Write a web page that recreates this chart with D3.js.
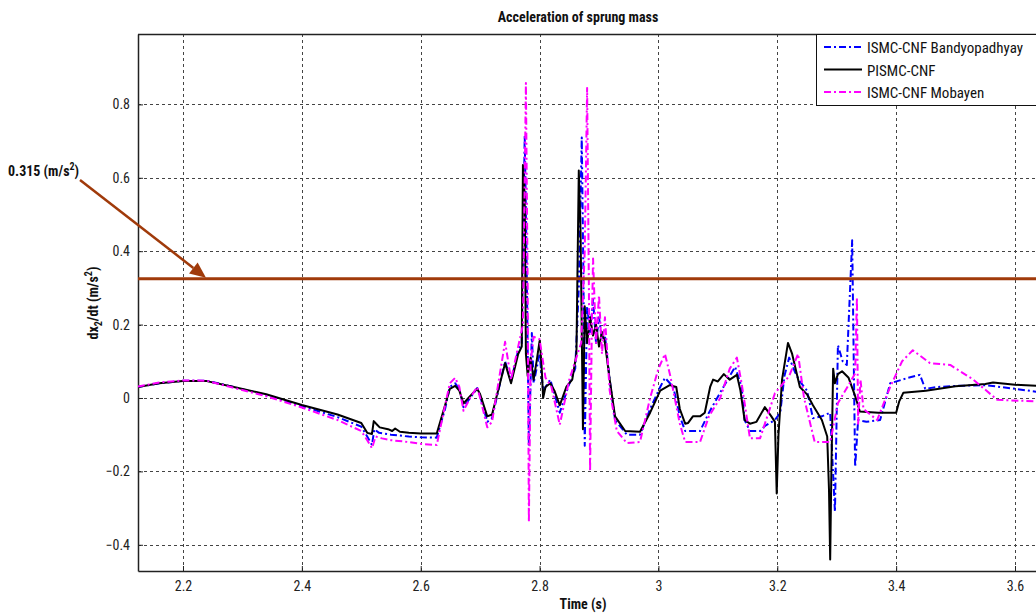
<!DOCTYPE html>
<html><head><meta charset="utf-8">
<script src="https://cdn.jsdelivr.net/npm/d3@7"></script>
<style>
body{margin:0;background:#fff;}
svg{display:block;}
text{font-family:"Liberation Sans Narrow","Arial Narrow","Roboto Condensed","Liberation Sans",sans-serif;}
</style></head>
<body>
<svg id="c" width="1036" height="613"></svg>
<script>
// ---- data ----
const seriesNames = ["ISMC-CNF Bandyopadhyay", "PISMC-CNF", "ISMC-CNF Mobayen"];
const xTicks = [2.2, 2.4, 2.6, 2.8, 3.0, 3.2, 3.4, 3.6];
const yTicks = [-0.4, -0.2, 0, 0.2, 0.4, 0.6, 0.8];
const thresholdValue = 0.325;
const thresholdLabel = "0.315";

const blueT = [2.124,2.16,2.20,2.24,2.28,2.34,2.40,2.46,2.50,2.510,2.518,2.522,2.53,2.55,2.58,2.60,2.627,2.641,2.649,2.658,2.665,2.672,2.683,2.695,2.70,2.712,2.72,2.742,2.752,2.764,2.770,2.775,2.778,2.782,2.785,2.787,2.79,2.80,2.806,2.818,2.834,2.848,2.86,2.866,2.871,2.874,2.876,2.880,2.885,2.89,2.895,2.90,2.905,2.91,2.918,2.927,2.947,2.969,2.986,3.003,3.011,3.025,3.036,3.045,3.07,3.085,3.104,3.12,3.129,3.14,3.145,3.154,3.171,3.18,3.196,3.205,3.212,3.220,3.23,3.238,3.25,3.26,3.275,3.289,3.297,3.302,3.31,3.317,3.326,3.331,3.336,3.35,3.373,3.39,3.42,3.44,3.449,3.47,3.50,3.55,3.60,3.65];
const blueY = [0.030,0.040,0.047,0.047,0.032,0.008,-0.022,-0.052,-0.078,-0.105,-0.128,-0.085,-0.095,-0.100,-0.105,-0.107,-0.108,-0.030,0.030,0.040,0.025,-0.025,0.000,0.027,0.005,-0.065,-0.055,0.100,0.045,0.130,0.150,0.717,0.400,-0.130,0.050,0.177,0.040,0.120,0.020,0.050,-0.040,0.030,0.080,0.300,0.710,0.300,-0.130,0.250,0.180,0.270,0.150,0.220,0.160,0.170,0.050,-0.060,-0.100,-0.100,-0.030,0.030,0.055,0.030,-0.050,-0.090,-0.090,-0.040,0.015,0.060,0.085,0.030,-0.060,-0.090,-0.090,-0.075,-0.060,-0.040,0.060,0.110,0.070,0.045,0.020,-0.055,-0.050,-0.040,-0.310,0.144,0.100,0.090,0.430,-0.188,-0.060,-0.065,-0.060,0.040,0.055,0.063,0.025,0.030,0.033,0.035,0.025,0.014];

const blackT = [2.124,2.16,2.20,2.24,2.28,2.34,2.40,2.46,2.50,2.510,2.518,2.521,2.525,2.531,2.545,2.552,2.557,2.565,2.58,2.60,2.627,2.641,2.649,2.658,2.665,2.672,2.683,2.695,2.70,2.712,2.72,2.742,2.752,2.764,2.770,2.772,2.775,2.777,2.780,2.785,2.790,2.795,2.80,2.803,2.806,2.81,2.818,2.825,2.834,2.845,2.855,2.862,2.866,2.869,2.873,2.876,2.880,2.885,2.89,2.895,2.90,2.905,2.91,2.918,2.927,2.944,2.969,2.986,3.003,3.019,3.03,3.036,3.045,3.05,3.058,3.07,3.078,3.087,3.092,3.10,3.11,3.12,3.132,3.138,3.145,3.154,3.165,3.179,3.19,3.196,3.199,3.202,3.208,3.218,3.225,3.238,3.25,3.26,3.275,3.284,3.287,3.289,3.291,3.294,3.297,3.302,3.309,3.32,3.33,3.339,3.37,3.40,3.405,3.412,3.45,3.50,3.55,3.563,3.60,3.65];
const blackY = [0.030,0.040,0.046,0.046,0.032,0.010,-0.019,-0.045,-0.068,-0.095,-0.098,-0.063,-0.070,-0.080,-0.085,-0.090,-0.083,-0.092,-0.095,-0.097,-0.097,-0.020,0.025,0.033,0.020,-0.015,0.005,0.025,0.010,-0.050,-0.045,0.095,0.040,0.120,0.140,0.635,0.550,0.120,0.060,0.110,0.050,0.100,0.155,0.100,0.000,0.030,0.040,0.020,-0.020,0.030,0.050,0.120,0.620,0.450,-0.085,0.250,0.150,0.220,0.170,0.200,0.140,0.180,0.150,0.050,-0.050,-0.090,-0.092,-0.040,0.020,0.035,0.030,-0.030,-0.070,-0.068,-0.050,-0.050,-0.040,0.030,0.050,0.045,0.065,0.050,0.063,0.020,-0.060,-0.070,-0.065,-0.025,-0.050,-0.065,-0.260,-0.100,0.050,0.150,0.120,0.030,0.010,-0.020,-0.060,-0.105,-0.250,-0.440,-0.200,0.080,0.040,0.065,0.073,0.055,0.010,-0.037,-0.040,-0.040,-0.010,0.014,0.020,0.032,0.038,0.042,0.036,0.032];

const magT = [2.124,2.16,2.20,2.24,2.28,2.34,2.40,2.46,2.50,2.510,2.518,2.524,2.535,2.55,2.58,2.60,2.627,2.641,2.649,2.658,2.665,2.672,2.683,2.695,2.70,2.712,2.72,2.742,2.752,2.764,2.772,2.777,2.780,2.782,2.785,2.79,2.80,2.81,2.82,2.834,2.85,2.87,2.876,2.880,2.883,2.885,2.888,2.89,2.895,2.90,2.905,2.91,2.918,2.93,2.947,2.969,2.986,3.0,3.011,3.02,3.036,3.045,3.07,3.085,3.104,3.12,3.132,3.14,3.154,3.171,3.196,3.205,3.22,3.235,3.245,3.263,3.289,3.302,3.318,3.331,3.334,3.336,3.34,3.345,3.368,3.39,3.41,3.428,3.457,3.491,3.53,3.570,3.65];
const magY = [0.031,0.042,0.048,0.047,0.030,0.005,-0.026,-0.060,-0.090,-0.115,-0.137,-0.105,-0.110,-0.115,-0.120,-0.125,-0.128,-0.020,0.040,0.055,0.030,-0.035,0.000,0.030,0.000,-0.080,-0.065,0.153,0.050,0.140,0.200,0.858,0.300,-0.338,0.100,0.167,0.160,0.055,0.030,-0.073,0.050,0.150,0.400,0.845,0.300,-0.200,0.200,0.380,0.150,0.280,0.120,0.220,0.020,-0.090,-0.123,-0.120,0.000,0.080,0.120,0.060,-0.070,-0.120,-0.120,-0.050,0.000,0.080,0.110,0.040,-0.110,-0.110,0.013,0.030,0.060,0.120,0.000,-0.120,-0.120,-0.014,0.030,0.067,0.275,-0.070,0.050,-0.030,-0.060,0.030,0.100,0.130,0.095,0.090,0.050,-0.005,-0.010];

const seriesT = [blueT, blackT, magT];
const seriesY = [blueY, blackY, magY];
const seriesColor = ["#0000ff", "#000000", "#ff00ff"];
const seriesDash = ["7,3,2,3", null, "7,3,2,3"];

// ---- layout ----
const svg = d3.select("#c");
const L = 138, T = 34, B = 571;
const pxPerUnitX = 594.3;
const xMin = 2.1243, xMax = 3.65;
const x = d3.scaleLinear().domain([xMin, xMax]).range([L, L + pxPerUnitX * (xMax - xMin)]);
const y = d3.scaleLinear().domain([-0.4714, 0.9918]).range([B, T]);
const R = x.range()[1];

svg.append("defs").append("clipPath").attr("id","clip")
  .append("rect").attr("x",L).attr("y",T).attr("width",R-L).attr("height",B-T);

// grid
const grid = svg.append("g").attr("stroke","#444").attr("stroke-width",1).attr("stroke-dasharray","3,3");
xTicks.forEach(v=>grid.append("line").attr("x1",Math.round(x(v))+0.5).attr("x2",Math.round(x(v))+0.5).attr("y1",T).attr("y2",B));
yTicks.forEach(v=>grid.append("line").attr("y1",Math.round(y(v))+0.5).attr("y2",Math.round(y(v))+0.5).attr("x1",L).attr("x2",R));

// axes
const xAxis = d3.axisBottom(x).tickValues(xTicks).tickSizeInner(-5).tickSizeOuter(0).tickPadding(10)
  .tickFormat(d=>d3.format("~g")(d));
const gx = svg.append("g").attr("transform",`translate(0,${B})`).call(xAxis);
const yAxis = d3.axisLeft(y).tickValues(yTicks).tickSizeInner(-5).tickSizeOuter(0).tickPadding(8)
  .tickFormat(d=>d3.format("~g")(d));
const gy = svg.append("g").attr("transform",`translate(${L},0)`).call(yAxis);
[gx,gy].forEach(g=>{
  g.selectAll("path.domain").attr("stroke","#222").attr("stroke-width",1.5);
  g.selectAll(".tick line").attr("stroke","#222");
  g.selectAll(".tick text").attr("font-size",14).attr("fill","#222")
    .attr("font-family",'"Liberation Sans Narrow","Arial Narrow",sans-serif');
});
svg.append("line").attr("x1",L).attr("x2",R).attr("y1",T+0.5).attr("y2",T+0.5).attr("stroke","#222").attr("stroke-width",1.5);

// series
const plot = svg.append("g").attr("clip-path","url(#clip)");
const line = d3.line().x(d=>x(d[0])).y(d=>y(d[1]));
seriesT.forEach((ts,i)=>{
  const pts = ts.map((t,j)=>[t, seriesY[i][j]]);
  const p = plot.append("path").datum(pts).attr("d",line)
    .attr("fill","none").attr("stroke",seriesColor[i]).attr("stroke-width",2)
    .attr("stroke-linejoin","round");
  if (seriesDash[i]) p.attr("stroke-dasharray",seriesDash[i]);
});

// threshold line
const brown = "#a03a0a";
plot.append("line").attr("x1",L).attr("x2",R).attr("y1",y(thresholdValue)).attr("y2",y(thresholdValue))
  .attr("stroke",brown).attr("stroke-width",3);

// annotation arrow
const ax0 = 80, ay0 = 180, ax1 = 206, ay1 = y(thresholdValue) - 1;
const ang = Math.atan2(ay1-ay0, ax1-ax0);
const hl = 16, hw = 7;
const bx = ax1 - hl*Math.cos(ang), by = ay1 - hl*Math.sin(ang);
svg.append("line").attr("x1",ax0).attr("y1",ay0).attr("x2",bx).attr("y2",by)
  .attr("stroke",brown).attr("stroke-width",2.5);
svg.append("path").attr("fill",brown)
  .attr("d",`M${ax1},${ay1}L${bx - hw*Math.sin(ang)},${by + hw*Math.cos(ang)}L${bx + hw*Math.sin(ang)},${by - hw*Math.cos(ang)}Z`);
const ann = svg.append("text").attr("x",8).attr("y",176).attr("font-size",14).attr("font-weight","bold").attr("fill","#111");
ann.append("tspan").text(thresholdLabel + " (m/s");
ann.append("tspan").attr("font-size",10).attr("dy",-6).text("2");
ann.append("tspan").attr("dy",6).text(")");

// title & labels
svg.append("text").attr("x",578).attr("y",22).attr("text-anchor","middle").attr("font-size",14)
  .attr("font-weight","bold").attr("fill","#111").text("Acceleration of sprung mass");
svg.append("text").attr("x",583).attr("y",609).attr("text-anchor","middle").attr("font-size",14)
  .attr("font-weight","bold").attr("fill","#111").text("Time (s)");
const yl = svg.append("text").attr("transform","translate(98,303) rotate(-90)").attr("text-anchor","middle")
  .attr("font-size",14).attr("font-weight","bold").attr("fill","#111");
yl.append("tspan").text("dx");
yl.append("tspan").attr("font-size",10).attr("dy",4).text("2");
yl.append("tspan").attr("dy",-4).text("/dt (m/s");
yl.append("tspan").attr("font-size",10).attr("dy",-6).text("2");
yl.append("tspan").attr("dy",6).text(")");

// legend
const lg = svg.append("g");
lg.append("rect").attr("x",816.5).attr("y",34.5).attr("width",240).attr("height",71)
  .attr("fill","#fff").attr("stroke","#111").attr("stroke-width",1);
seriesNames.forEach((n,i)=>{
  const yy = 47 + i*22.5;
  const l = lg.append("line").attr("x1",824).attr("x2",862).attr("y1",yy).attr("y2",yy)
    .attr("stroke",seriesColor[i]).attr("stroke-width",2);
  if (seriesDash[i]) l.attr("stroke-dasharray",seriesDash[i]);
  lg.append("text").attr("x",867).attr("y",yy+6).attr("font-size",15).attr("fill","#111").text(n);
});
</script>
</body></html>
